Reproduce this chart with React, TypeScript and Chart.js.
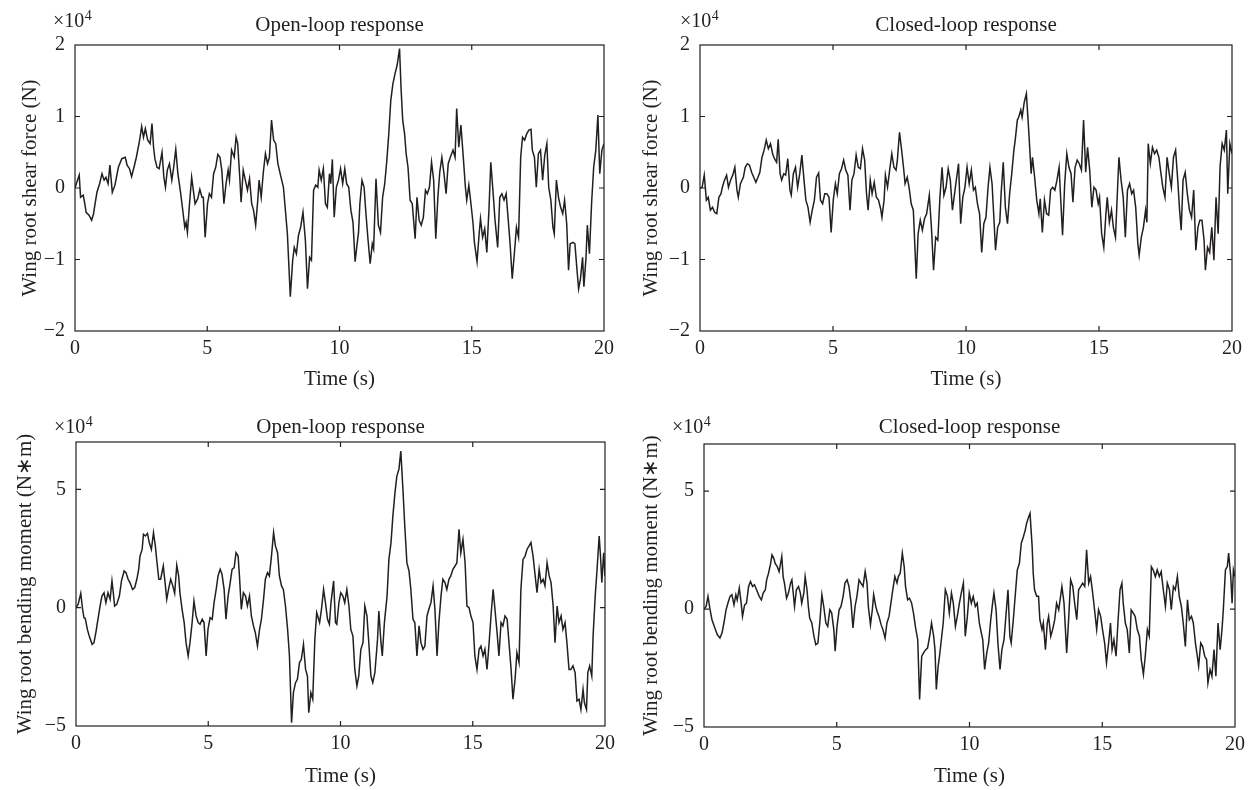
import React, { useEffect, useRef } from 'react';
import { Chart, registerables } from 'chart.js';

Chart.register(...registerables);

// ---------- data (values in units of 10^4) ----------
const xTicks = [0, 5, 10, 15, 20];
const shearTicks = [-2, -1, 0, 1, 2];
const momentTicks = [-5, 0, 5];

const openShear: [number, number][] = [
  [0, 0], [0.05, 0.06], [0.16, 0.18], [0.21, -0.13], [0.31, -0.1], [0.37, -0.22], [0.42, -0.34], [0.53, -0.38], [0.63, -0.45], [0.7, -0.36],
  [0.76, -0.22], [0.83, -0.06], [0.93, 0.06], [1.02, 0.2], [1.1, 0.11], [1.17, 0.15], [1.25, 0.06], [1.32, 0.32], [1.41, -0.06], [1.51, 0.04],
  [1.64, 0.29], [1.77, 0.41], [1.9, 0.43], [1.97, 0.32], [2.06, 0.27], [2.14, 0.16], [2.23, 0.29], [2.32, 0.43], [2.43, 0.64], [2.52, 0.86],
  [2.59, 0.71], [2.66, 0.83], [2.75, 0.67], [2.84, 0.62], [2.91, 0.9], [2.97, 0.57], [3.02, 0.41], [3.1, 0.29], [3.18, 0.27], [3.29, 0.5],
  [3.36, 0.15], [3.42, 0.01], [3.49, 0.25], [3.57, 0.34], [3.66, 0.11], [3.73, 0.29], [3.81, 0.54], [3.89, 0.2], [3.99, -0.06], [4.09, -0.36],
  [4.15, -0.55], [4.2, -0.48], [4.25, -0.62], [4.33, -0.22], [4.41, 0.15], [4.49, -0.08], [4.54, -0.22], [4.64, -0.15], [4.72, -0.02], [4.8, -0.13],
  [4.85, -0.13], [4.92, -0.69], [5.01, -0.22], [5.08, -0.08], [5.16, -0.13], [5.24, 0.2], [5.32, 0.29], [5.4, 0.47], [5.48, 0.43], [5.55, 0.25],
  [5.63, -0.22], [5.71, 0.06], [5.79, 0.25], [5.84, 0.11], [5.92, 0.53], [6.02, 0.43], [6.09, 0.71], [6.15, 0.62], [6.23, 0.15], [6.28, -0.2],
  [6.36, 0.25], [6.44, 0.11], [6.52, -0.03], [6.6, 0.13], [6.68, -0.22], [6.75, -0.31], [6.83, -0.52], [6.91, -0.17], [6.96, 0.11], [7.04, -0.13],
  [7.12, 0.22], [7.2, 0.48], [7.28, 0.34], [7.35, 0.43], [7.43, 0.95], [7.51, 0.67], [7.59, 0.62], [7.67, 0.34], [7.77, 0.18], [7.88, 0.01],
  [7.95, -0.29], [8.03, -0.64], [8.14, -1.52], [8.23, -1.01], [8.29, -0.83], [8.37, -0.92], [8.45, -0.66], [8.53, -0.55], [8.62, -0.34], [8.71, -0.73],
  [8.79, -1.41], [8.87, -0.97], [8.94, -1.01], [9.02, -0.03], [9.1, 0.04], [9.18, 0.01], [9.23, 0.25], [9.31, 0.11], [9.39, 0.27], [9.47, -0.22],
  [9.54, -0.27], [9.62, 0.2], [9.67, 0.06], [9.73, 0.4], [9.8, -0.41], [9.88, 0.01], [9.96, 0.11], [10.04, 0.27], [10.12, 0.06], [10.2, 0.27],
  [10.27, 0.06], [10.35, 0.01], [10.43, -0.31], [10.51, -0.48], [10.59, -1.03], [10.66, -0.8], [10.72, -0.62], [10.77, -0.22], [10.85, 0.11], [10.93, 0.01],
  [11.0, -0.36], [11.08, -0.73], [11.16, -1.06], [11.24, -0.78], [11.29, -0.85], [11.38, 0.13], [11.47, -0.52], [11.55, -0.62], [11.63, -0.13], [11.71, 0.06],
  [11.79, 0.39], [11.86, 0.74], [11.94, 1.23], [12.02, 1.46], [12.1, 1.6], [12.18, 1.72], [12.27, 1.95], [12.33, 1.37], [12.39, 0.95], [12.46, 0.76],
  [12.52, 0.48], [12.59, 0.29], [12.67, -0.17], [12.75, -0.22], [12.86, -0.71], [12.93, -0.13], [13.01, -0.45], [13.09, -0.52], [13.17, -0.41], [13.25, -0.03],
  [13.32, -0.08], [13.4, 0.01], [13.48, 0.36], [13.56, 0.11], [13.64, -0.71], [13.72, -0.13], [13.79, 0.22], [13.87, 0.43], [13.95, 0.2], [14.03, -0.08],
  [14.11, 0.34], [14.19, 0.43], [14.29, 0.53], [14.37, 0.43], [14.43, 1.11], [14.51, 0.57], [14.59, 0.88], [14.68, 0.43], [14.76, 0.01], [14.81, -0.17],
  [14.89, 0.04], [14.97, -0.22], [15.05, -0.5], [15.1, -0.76], [15.2, -1.03], [15.28, -0.64], [15.33, -0.43], [15.41, -0.69], [15.49, -0.57], [15.57, -0.9],
  [15.65, -0.31], [15.72, 0.36], [15.8, -0.03], [15.88, -0.45], [15.98, -0.83], [16.06, -0.13], [16.14, -0.08], [16.22, -0.17], [16.3, -0.08], [16.38, -0.45],
  [16.45, -0.78], [16.53, -1.27], [16.61, -0.92], [16.69, -0.55], [16.77, -0.69], [16.85, 0.43], [16.92, 0.71], [17.0, 0.67], [17.08, 0.76], [17.16, 0.81],
  [17.24, 0.82], [17.29, 0.53], [17.37, 0.43], [17.44, 0.01], [17.52, 0.48], [17.6, 0.53], [17.68, 0.11], [17.76, 0.46], [17.84, 0.62], [17.91, 0.01],
  [17.99, -0.17], [18.07, -0.55], [18.12, -0.64], [18.2, 0.11], [18.28, -0.13], [18.36, -0.27], [18.44, -0.36], [18.51, -0.17], [18.59, -0.5], [18.66, -1.15],
  [18.72, -0.78], [18.83, -0.76], [18.9, -0.78], [18.98, -1.15], [19.04, -1.41], [19.11, -1.27], [19.19, -0.97], [19.24, -1.38], [19.32, -0.97], [19.37, -0.52],
  [19.45, -0.92], [19.53, -0.22], [19.61, 0.29], [19.69, 0.53], [19.77, 1.02], [19.84, 0.2], [19.92, 0.53], [20.0, 0.62],
];

const closedShear: [number, number][] = [
  [0, 0], [0.08, 0.01], [0.16, 0.18], [0.24, -0.17], [0.31, -0.13], [0.39, -0.31], [0.47, -0.27], [0.55, -0.34], [0.63, -0.36], [0.71, -0.13],
  [0.79, -0.08], [0.84, 0.01], [0.92, 0.11], [1.0, 0.18], [1.07, 0.01], [1.15, 0.11], [1.23, 0.18], [1.31, 0.29], [1.39, -0.03], [1.44, -0.13],
  [1.52, 0.06], [1.63, 0.15], [1.7, 0.29], [1.78, 0.34], [1.86, 0.32], [1.94, 0.22], [2.02, 0.15], [2.1, 0.08], [2.18, 0.15], [2.25, 0.22],
  [2.33, 0.43], [2.41, 0.53], [2.49, 0.67], [2.57, 0.55], [2.65, 0.62], [2.73, 0.48], [2.8, 0.41], [2.88, 0.36], [2.94, 0.68], [3.01, 0.2],
  [3.07, 0.11], [3.15, 0.2], [3.22, 0.18], [3.3, 0.41], [3.38, -0.03], [3.43, -0.1], [3.51, 0.2], [3.59, 0.29], [3.67, 0.01], [3.75, 0.2],
  [3.83, 0.46], [3.91, 0.11], [3.98, -0.17], [4.06, -0.27], [4.14, -0.48], [4.22, -0.31], [4.3, -0.17], [4.38, 0.15], [4.46, 0.21], [4.53, -0.17],
  [4.61, -0.22], [4.69, -0.08], [4.77, -0.08], [4.85, -0.13], [4.93, -0.62], [5.01, -0.17], [5.09, 0.06], [5.16, -0.08], [5.24, 0.2], [5.32, 0.27],
  [5.4, 0.39], [5.48, 0.25], [5.56, 0.18], [5.64, -0.31], [5.71, 0.11], [5.79, 0.2], [5.87, 0.46], [5.95, 0.29], [6.03, 0.27], [6.11, 0.55],
  [6.19, 0.39], [6.26, -0.08], [6.32, -0.31], [6.4, 0.11], [6.47, -0.08], [6.55, 0.08], [6.63, -0.13], [6.71, -0.17], [6.79, -0.29], [6.84, -0.41],
  [6.92, -0.17], [6.97, 0.18], [7.05, 0.01], [7.13, 0.25], [7.21, 0.48], [7.29, 0.29], [7.37, 0.25], [7.42, 0.39], [7.5, 0.78], [7.58, 0.53],
  [7.65, 0.29], [7.71, 0.06], [7.79, 0.15], [7.86, 0.01], [7.94, -0.22], [8.02, -0.31], [8.13, -1.27], [8.2, -0.64], [8.28, -0.45], [8.36, -0.59],
  [8.44, -0.43], [8.52, -0.36], [8.62, -0.1], [8.7, -0.55], [8.78, -1.15], [8.86, -0.69], [8.94, -0.73], [9.02, -0.13], [9.1, 0.29], [9.17, -0.1],
  [9.25, 0.01], [9.33, 0.27], [9.41, 0.11], [9.49, -0.31], [9.57, -0.08], [9.65, 0.15], [9.72, 0.34], [9.8, -0.5], [9.88, -0.13], [9.96, 0.01],
  [10.04, 0.29], [10.12, 0.06], [10.2, 0.25], [10.28, -0.03], [10.35, 0.01], [10.43, -0.22], [10.51, -0.36], [10.59, -0.9], [10.67, -0.5], [10.75, -0.41],
  [10.83, 0.01], [10.9, 0.29], [10.98, 0.06], [11.04, -0.36], [11.11, -0.87], [11.19, -0.55], [11.27, -0.48], [11.32, -0.08], [11.4, 0.36], [11.48, -0.27],
  [11.56, -0.5], [11.64, -0.08], [11.72, 0.2], [11.8, 0.53], [11.85, 0.67], [11.93, 0.95], [11.98, 0.99], [12.06, 1.09], [12.11, 0.99], [12.19, 1.2],
  [12.27, 1.32], [12.35, 0.85], [12.4, 0.53], [12.45, 0.2], [12.5, 0.43], [12.58, 0.15], [12.66, -0.17], [12.74, -0.36], [12.79, -0.15], [12.87, -0.62],
  [12.95, -0.17], [13.03, -0.36], [13.11, -0.38], [13.18, -0.03], [13.26, 0.01], [13.34, -0.03], [13.42, 0.11], [13.5, 0.29], [13.55, -0.08], [13.63, -0.66],
  [13.71, 0.06], [13.79, 0.48], [13.87, 0.29], [13.95, 0.2], [14.02, -0.2], [14.1, 0.29], [14.18, 0.39], [14.26, 0.34], [14.34, 0.25], [14.42, 0.95],
  [14.5, 0.22], [14.57, 0.57], [14.65, 0.25], [14.73, -0.27], [14.81, 0.01], [14.89, -0.03], [14.97, -0.22], [15.02, -0.13], [15.1, -0.64], [15.18, -0.83],
  [15.26, -0.36], [15.31, -0.13], [15.39, -0.48], [15.47, -0.31], [15.54, -0.55], [15.62, -0.69], [15.7, 0.01], [15.75, 0.43], [15.83, 0.11], [15.91, -0.13],
  [15.99, -0.69], [16.07, -0.03], [16.15, 0.06], [16.23, -0.08], [16.3, -0.03], [16.38, -0.27], [16.46, -0.78], [16.51, -0.94], [16.59, -0.69], [16.67, -0.55],
  [16.75, -0.31], [16.8, -0.48], [16.85, 0.62], [16.93, 0.34], [17.01, 0.57], [17.09, 0.48], [17.17, 0.53], [17.25, 0.43], [17.33, 0.2], [17.4, 0.01],
  [17.48, -0.13], [17.56, 0.43], [17.64, 0.2], [17.72, 0.01], [17.8, 0.43], [17.88, 0.53], [17.96, 0.11], [18.03, -0.31], [18.09, -0.59], [18.16, 0.11],
  [18.24, 0.22], [18.32, -0.08], [18.4, -0.31], [18.48, -0.41], [18.56, -0.03], [18.64, -0.87], [18.72, -0.55], [18.79, -0.45], [18.87, -0.45], [18.95, -0.73],
  [19.0, -1.15], [19.08, -0.83], [19.16, -0.9], [19.24, -0.55], [19.32, -1.01], [19.4, -0.13], [19.48, -0.64], [19.55, 0.29], [19.63, 0.62], [19.71, 0.53],
  [19.79, 0.81], [19.84, -0.08], [19.92, 0.62], [20.0, 0.48],
];

const openMoment: [number, number][] = [
  [0, 0], [0.08, 0.14], [0.18, 0.61], [0.25, -0.07], [0.3, -0.42], [0.35, -0.46], [0.43, -0.92], [0.5, -1.2], [0.61, -1.55], [0.68, -1.48],
  [0.76, -0.99], [0.81, -0.63], [0.91, 0.07], [0.98, 0.49], [1.06, 0.63], [1.13, 0.21], [1.21, 0.63], [1.29, 0.35], [1.36, 1.13], [1.41, 0.63],
  [1.46, 0.07], [1.54, 0.14], [1.64, 0.49], [1.72, 1.13], [1.82, 1.55], [1.89, 1.48], [1.97, 1.2], [2.04, 1.06], [2.14, 0.77], [2.22, 0.85],
  [2.3, 1.2], [2.37, 1.62], [2.42, 2.18], [2.5, 2.46], [2.55, 3.1], [2.62, 3.03], [2.7, 3.14], [2.77, 2.75], [2.85, 2.46], [2.93, 3.17],
  [3.0, 2.61], [3.05, 2.04], [3.13, 1.2], [3.2, 1.2], [3.3, 1.76], [3.38, 0.92], [3.43, 0.35], [3.51, 0.85], [3.58, 1.2], [3.66, 0.92],
  [3.73, 0.61], [3.81, 1.79], [3.88, 1.34], [3.93, 0.63], [4.01, -0.07], [4.09, -0.63], [4.16, -1.48], [4.24, -2.04], [4.31, -1.48], [4.39, -0.63],
  [4.46, 0.28], [4.54, -0.35], [4.62, -0.63], [4.69, -0.7], [4.77, -0.49], [4.84, -0.63], [4.92, -2.04], [4.99, -0.92], [5.07, -0.42], [5.15, -0.49],
  [5.22, 0.21], [5.3, 0.77], [5.37, 1.34], [5.45, 1.62], [5.52, 1.41], [5.6, 0.77], [5.67, -0.49], [5.75, 0.49], [5.83, 1.06], [5.9, 1.62],
  [5.98, 1.69], [6.05, 2.32], [6.13, 2.18], [6.18, 1.34], [6.25, -0.07], [6.33, 0.63], [6.41, 0.49], [6.48, 0.07], [6.56, 0.49], [6.63, -0.35],
  [6.71, -0.77], [6.78, -1.06], [6.86, -1.62], [6.94, -0.92], [7.01, -0.49], [7.09, 0.35], [7.16, 1.2], [7.24, 1.48], [7.31, 1.34], [7.39, 2.18],
  [7.47, 3.17], [7.54, 2.61], [7.62, 2.32], [7.69, 1.34], [7.77, 0.92], [7.84, 0.77], [7.92, 0.07], [8.0, -0.92], [8.07, -2.04], [8.15, -4.86],
  [8.22, -3.59], [8.3, -3.17], [8.37, -3.03], [8.45, -2.32], [8.52, -2.18], [8.6, -1.55], [8.68, -2.61], [8.75, -2.89], [8.8, -4.44], [8.88, -3.59],
  [8.95, -3.87], [9.03, -1.34], [9.1, -0.21], [9.21, -0.63], [9.28, -0.07], [9.36, 0.77], [9.43, 0.21], [9.51, -0.49], [9.58, -0.7], [9.64, 0.21],
  [9.74, 1.13], [9.81, -0.63], [9.86, -0.7], [9.94, 0.21], [10.01, 0.63], [10.09, 0.49], [10.16, 0.21], [10.24, 0.77], [10.32, 0.07], [10.39, -0.92],
  [10.47, -1.2], [10.54, -2.61], [10.62, -3.31], [10.69, -2.89], [10.77, -1.76], [10.85, -1.48], [10.92, 0.07], [11.0, -0.35], [11.07, -1.48], [11.15, -2.89],
  [11.22, -3.17], [11.3, -2.75], [11.4, -1.34], [11.45, -0.14], [11.53, -1.48], [11.58, -2.04], [11.66, -0.63], [11.76, 0.49], [11.83, 2.04], [11.91, 2.75],
  [11.98, 3.87], [12.06, 4.86], [12.13, 5.56], [12.21, 5.85], [12.28, 6.62], [12.36, 5.0], [12.43, 3.45], [12.51, 1.9], [12.59, 1.55], [12.66, 0.77],
  [12.74, -0.49], [12.81, -0.63], [12.89, -2.04], [12.97, -0.77], [13.04, -1.48], [13.12, -1.76], [13.19, -1.62], [13.27, -0.35], [13.34, -0.07], [13.42, 0.21],
  [13.5, 0.92], [13.57, -0.07], [13.65, -2.04], [13.72, -0.63], [13.8, 0.49], [13.87, 1.2], [13.95, 1.06], [14.02, 0.77], [14.1, 1.2], [14.17, 1.34],
  [14.25, 1.62], [14.33, 1.76], [14.4, 1.9], [14.48, 3.31], [14.55, 2.32], [14.63, 2.89], [14.71, 1.9], [14.78, 0.07], [14.86, 0.0], [14.93, -0.35],
  [15.01, -0.63], [15.08, -2.04], [15.16, -2.61], [15.24, -1.76], [15.31, -1.62], [15.39, -2.04], [15.46, -1.76], [15.54, -2.61], [15.61, -1.62], [15.69, -0.35],
  [15.77, 0.77], [15.84, -0.07], [15.92, -1.06], [15.99, -2.04], [16.07, -0.63], [16.14, -0.77], [16.22, -0.35], [16.3, -0.49], [16.37, -1.48], [16.45, -2.61],
  [16.52, -3.87], [16.6, -3.03], [16.67, -1.9], [16.75, -2.32], [16.82, 0.77], [16.9, 2.04], [16.98, 2.18], [17.05, 2.46], [17.13, 2.61], [17.2, 2.75],
  [17.28, 2.18], [17.36, 1.34], [17.43, 0.63], [17.51, 1.62], [17.58, 1.06], [17.66, 1.2], [17.73, 0.92], [17.81, 1.9], [17.89, 1.34], [17.96, 1.06],
  [18.04, 0.07], [18.11, -1.48], [18.19, 0.07], [18.26, -0.63], [18.34, -0.35], [18.41, -0.92], [18.49, -0.63], [18.56, -1.48], [18.64, -2.61], [18.71, -2.61],
  [18.79, -2.46], [18.87, -2.75], [18.94, -3.94], [19.02, -3.87], [19.09, -4.3], [19.17, -3.45], [19.22, -4.01], [19.3, -4.3], [19.35, -2.75], [19.42, -2.46],
  [19.5, -2.89], [19.55, -1.2], [19.63, 0.49], [19.7, 1.62], [19.78, 3.03], [19.83, 2.18], [19.88, 1.06], [19.95, 2.32], [20.0, 1.34],
];

const closedMoment: [number, number][] = [
  [0, 0], [0.08, 0.11], [0.15, 0.54], [0.23, -0.03], [0.3, -0.45], [0.43, -0.87], [0.5, -1.08], [0.6, -1.23], [0.68, -1.01], [0.75, -0.59],
  [0.83, -0.03], [0.9, 0.25], [0.98, 0.54], [1.05, 0.61], [1.13, 0.18], [1.2, 0.61], [1.25, 0.39], [1.33, 0.89], [1.4, 0.25], [1.45, -0.31],
  [1.53, 0.18], [1.6, 0.25], [1.68, 0.96], [1.75, 1.17], [1.83, 0.96], [1.9, 1.03], [1.98, 0.82], [2.08, 0.54], [2.16, 0.39], [2.23, 0.68],
  [2.31, 0.82], [2.36, 1.24], [2.43, 1.52], [2.51, 1.94], [2.56, 2.3], [2.63, 2.15], [2.68, 1.94], [2.76, 1.8], [2.83, 1.59], [2.93, 2.23],
  [2.98, 1.38], [3.03, 1.1], [3.11, 0.46], [3.18, 0.68], [3.26, 1.1], [3.31, 1.24], [3.36, 0.68], [3.41, 0.11], [3.48, 0.82], [3.56, 0.96],
  [3.63, 0.68], [3.68, 0.25], [3.76, 0.68], [3.81, 1.38], [3.88, 0.82], [3.93, 0.11], [3.98, -0.38], [4.06, -0.59], [4.14, -1.15], [4.21, -1.51],
  [4.29, -1.44], [4.36, -0.59], [4.44, 0.61], [4.51, 0.11], [4.59, -0.59], [4.66, -0.73], [4.74, -0.03], [4.81, -0.17], [4.89, -0.87], [4.94, -1.79],
  [5.01, -0.73], [5.09, -0.03], [5.16, 0.11], [5.24, 0.54], [5.31, 1.1], [5.39, 1.24], [5.46, 0.96], [5.54, 0.25], [5.61, -0.8], [5.69, 0.11],
  [5.76, 0.54], [5.84, 1.24], [5.91, 1.1], [5.99, 0.96], [6.07, 1.59], [6.14, 1.1], [6.19, 0.11], [6.27, -0.66], [6.34, -0.03], [6.39, 0.61],
  [6.47, 0.11], [6.52, -0.1], [6.59, -0.31], [6.67, -0.66], [6.74, -0.87], [6.82, -1.23], [6.89, -0.59], [6.97, -0.31], [7.04, 0.25], [7.12, 0.89],
  [7.19, 1.38], [7.27, 1.1], [7.32, 1.38], [7.39, 1.52], [7.47, 2.37], [7.54, 1.8], [7.59, 0.96], [7.67, 0.39], [7.74, 0.46], [7.82, 0.25],
  [7.89, -0.17], [7.97, -0.8], [8.05, -1.3], [8.12, -3.83], [8.2, -2.0], [8.27, -1.86], [8.35, -1.72], [8.42, -1.65], [8.5, -1.15], [8.57, -0.59],
  [8.65, -1.15], [8.7, -1.72], [8.75, -3.41], [8.82, -2.42], [8.87, -2.0], [9.01, -0.59], [9.09, 0.82], [9.17, 0.54], [9.24, -0.17], [9.32, 0.68],
  [9.39, 0.25], [9.47, -0.73], [9.54, -0.31], [9.62, 0.25], [9.69, 0.68], [9.77, 1.1], [9.84, -1.15], [9.92, -0.31], [9.99, 0.68], [10.07, 0.25],
  [10.14, 0.54], [10.22, 0.11], [10.29, 0.25], [10.37, -0.59], [10.42, -0.87], [10.5, -1.3], [10.57, -2.56], [10.65, -1.86], [10.72, -1.44], [10.8, -0.45],
  [10.87, 0.25], [10.92, 0.68], [11.0, -0.03], [11.07, -1.44], [11.15, -2.56], [11.22, -1.72], [11.3, -1.3], [11.37, -0.31], [11.45, 0.82], [11.52, -1.15],
  [11.57, -1.44], [11.65, -0.45], [11.73, 0.68], [11.8, 1.66], [11.88, 1.94], [11.95, 2.79], [12.03, 3.07], [12.1, 3.35], [12.15, 3.63], [12.23, 3.92],
  [12.28, 4.06], [12.36, 2.65], [12.4, 1.52], [12.45, 0.82], [12.53, 0.54], [12.6, 0.54], [12.65, -0.45], [12.73, -0.87], [12.78, -0.59], [12.86, -1.72],
  [12.93, -0.59], [12.98, -0.31], [13.06, -1.15], [13.13, -0.87], [13.21, -0.45], [13.28, 0.25], [13.36, -0.03], [13.43, 0.54], [13.48, 0.96], [13.56, 0.25],
  [13.66, -1.86], [13.74, -0.31], [13.81, 1.24], [13.89, 0.96], [13.96, 0.25], [14.04, -0.45], [14.11, 0.82], [14.19, 0.96], [14.26, 1.1], [14.34, 0.96],
  [14.41, 2.51], [14.49, 1.1], [14.56, 1.38], [14.64, 0.68], [14.71, -0.03], [14.79, -0.87], [14.86, -0.03], [14.94, -0.31], [15.01, -0.87], [15.09, -1.44],
  [15.16, -2.28], [15.24, -1.44], [15.31, -0.59], [15.37, -1.72], [15.44, -1.3], [15.52, -2.0], [15.59, -0.59], [15.67, 0.82], [15.74, 1.1], [15.79, 0.25],
  [15.87, -0.59], [15.94, -0.87], [16.02, -1.86], [16.09, -0.03], [16.17, -0.17], [16.24, -0.31], [16.32, -0.87], [16.4, -1.15], [16.47, -2.14], [16.55, -2.77],
  [16.62, -2.0], [16.7, -0.87], [16.77, -1.15], [16.85, 1.8], [16.92, 1.66], [17.0, 1.38], [17.07, 1.66], [17.15, 1.38], [17.22, 1.59], [17.3, 0.82],
  [17.38, 0.11], [17.45, 1.1], [17.53, 0.82], [17.6, -0.03], [17.68, 0.96], [17.75, 0.82], [17.83, 1.38], [17.9, 0.54], [17.98, 0.11], [18.05, -0.59],
  [18.13, -1.58], [18.21, 0.39], [18.28, -0.45], [18.36, -0.31], [18.43, -0.59], [18.51, -1.44], [18.58, -2.0], [18.63, -2.42], [18.71, -1.44], [18.78, -1.58],
  [18.86, -2.0], [18.93, -2.14], [18.98, -3.13], [19.06, -2.56], [19.13, -2.85], [19.21, -1.72], [19.28, -2.85], [19.36, -0.59], [19.44, -1.72], [19.51, -0.87],
  [19.56, -0.03], [19.64, 1.66], [19.71, 1.8], [19.76, 2.37], [19.84, 1.38], [19.89, 0.25], [19.94, 1.66], [20.0, 1.38],
];

// ---------- styling ----------
const FONT = '"Liberation Serif", "Times New Roman", serif';
const INK = '#231f20';
const TICK_SIZE = 20;
const LABEL_SIZE = 21;

type Rect = { x: number; y: number; w: number; h: number };
type Plot = { l: number; t: number; r: number; b: number };
type PanelCfg = {
  data: [number, number][];
  title: string;
  yLabel: string;
  yMin: number;
  yMax: number;
  yTicks: number[];
  canvas: Rect;
  plot: Plot;
  yLabelBase: number;
  titleBase: number;
  xLabelBase: number;
  expX: number;
  expBase: number;
};

const panels: PanelCfg[] = [
  {
    data: openShear, title: 'Open-loop response', yLabel: 'Wing root shear force (N)',
    yMin: -2, yMax: 2, yTicks: shearTicks,
    canvas: { x: 0, y: 0, w: 627, h: 395 }, plot: { l: 75, t: 45, r: 604, b: 331 },
    yLabelBase: 35.5, titleBase: 30.5, xLabelBase: 385, expX: 53, expBase: 27.3,
  },
  {
    data: closedShear, title: 'Closed-loop response', yLabel: 'Wing root shear force (N)',
    yMin: -2, yMax: 2, yTicks: shearTicks,
    canvas: { x: 627, y: 0, w: 627, h: 395 }, plot: { l: 700, t: 45, r: 1232, b: 331 },
    yLabelBase: 656.5, titleBase: 30.5, xLabelBase: 385, expX: 680, expBase: 27.3,
  },
  {
    data: openMoment, title: 'Open-loop response', yLabel: 'Wing root bending moment (N\u2217m)',
    yMin: -5, yMax: 7, yTicks: momentTicks,
    canvas: { x: 0, y: 395, w: 627, h: 395 }, plot: { l: 76, t: 442, r: 605, b: 726 },
    yLabelBase: 31, titleBase: 433, xLabelBase: 781.5, expX: 54, expBase: 433.3,
  },
  {
    data: closedMoment, title: 'Closed-loop response', yLabel: 'Wing root bending moment (N\u2217m)',
    yMin: -5, yMax: 7, yTicks: momentTicks,
    canvas: { x: 627, y: 395, w: 627, h: 395 }, plot: { l: 704, t: 444, r: 1235, b: 727 },
    yLabelBase: 656.5, titleBase: 433, xLabelBase: 781.5, expX: 672, expBase: 433.3,
  },
];

const fmt = (v: number) => (v < 0 ? '\u2212' + String(Math.abs(v)) : String(v));

function Panel({ cfg }: { cfg: PanelCfg }) {
  const ref = useRef<HTMLCanvasElement>(null);
  const cv = cfg.canvas;

  useEffect(() => {
    const plot = cfg.plot;
    const xAxisH = 30;
    const ox = cv.x;
    const oy = cv.y;

    const decor = {
      id: 'decor',
      afterDatasetsDraw(chart: any) {
        const ctx = chart.ctx as CanvasRenderingContext2D;
        const ca = chart.chartArea;
        const xs = chart.scales.x;
        const ys = chart.scales.y;
        ctx.save();
        ctx.strokeStyle = INK;
        ctx.lineWidth = 1.2;
        ctx.strokeRect(ca.left, ca.top, ca.right - ca.left, ca.bottom - ca.top);
        const tl = 5;
        ctx.beginPath();
        xTicks.forEach((v) => {
          const px = xs.getPixelForValue(v);
          if (px <= ca.left + 1 || px >= ca.right - 1) return;
          ctx.moveTo(px, ca.top);
          ctx.lineTo(px, ca.top + tl);
          ctx.moveTo(px, ca.bottom);
          ctx.lineTo(px, ca.bottom - tl);
        });
        cfg.yTicks.forEach((v) => {
          const py = ys.getPixelForValue(v);
          if (py <= ca.top + 1 || py >= ca.bottom - 1) return;
          ctx.moveTo(ca.left, py);
          ctx.lineTo(ca.left + tl, py);
          ctx.moveTo(ca.right, py);
          ctx.lineTo(ca.right - tl, py);
        });
        ctx.stroke();

        ctx.fillStyle = INK;
        const cx = (ca.left + ca.right) / 2;
        const cy = (ca.top + ca.bottom) / 2;
        ctx.font = `${LABEL_SIZE}px ${FONT}`;
        ctx.textAlign = 'center';
        ctx.textBaseline = 'alphabetic';
        ctx.fillText(cfg.title, cx, cfg.titleBase - oy);
        ctx.fillText('Time (s)', cx, cfg.xLabelBase - oy);
        ctx.save();
        ctx.translate(cfg.yLabelBase - ox, cy);
        ctx.rotate(-Math.PI / 2);
        ctx.fillText(cfg.yLabel, 0, 0);
        ctx.restore();
        ctx.textAlign = 'left';
        ctx.font = `${TICK_SIZE}px ${FONT}`;
        const base = '\u00d710';
        ctx.fillText(base, cfg.expX - ox, cfg.expBase - oy);
        const w = ctx.measureText(base).width;
        ctx.font = `${14}px ${FONT}`;
        ctx.fillText('4', cfg.expX - ox + w + 0.5, cfg.expBase - oy - 7.5);
        ctx.restore();
      },
    };

    const tickFont = { family: FONT, size: TICK_SIZE };
    const chart = new Chart(ref.current as HTMLCanvasElement, {
      type: 'line',
      data: {
        datasets: [
          {
            data: cfg.data.map(([x, y]) => ({ x, y })),
            borderColor: INK,
            borderWidth: 1.5,
            pointRadius: 0,
            tension: 0,
            fill: false,
          },
        ],
      },
      options: {
        animation: false,
        responsive: false,
        devicePixelRatio: 1,
        layout: {
          padding: {
            left: 0,
            top: plot.t - oy,
            right: ox + cv.w - plot.r,
            bottom: oy + cv.h - plot.b - xAxisH,
          },
        },
        plugins: {
          legend: { display: false },
          tooltip: { enabled: false },
          title: { display: false },
        },
        scales: {
          x: {
            type: 'linear',
            min: 0,
            max: 20,
            afterBuildTicks: (s: any) => {
              s.ticks = xTicks.map((v) => ({ value: v }));
            },
            afterFit: (s: any) => {
              s.height = xAxisH;
            },
            grid: { display: false, drawTicks: false },
            border: { display: false },
            ticks: {
              font: tickFont,
              color: INK,
              padding: 5.5,
              maxRotation: 0,
              autoSkip: false,
              callback: (v: any) => fmt(Number(v)),
            },
          },
          y: {
            type: 'linear',
            min: cfg.yMin,
            max: cfg.yMax,
            afterBuildTicks: (s: any) => {
              s.ticks = cfg.yTicks.map((v) => ({ value: v }));
            },
            afterFit: (s: any) => {
              s.width = plot.l - ox;
            },
            grid: { display: false, drawTicks: false },
            border: { display: false },
            ticks: {
              font: tickFont,
              color: INK,
              padding: 10,
              autoSkip: false,
              callback: (v: any) => fmt(Number(v)),
            },
          },
        },
      },
      plugins: [decor],
    } as any);
    return () => chart.destroy();
  }, [cfg]);

  return (
    <canvas
      ref={ref}
      width={cv.w}
      height={cv.h}
      style={{ position: 'absolute', left: cv.x, top: cv.y, width: cv.w, height: cv.h, display: 'block' }}
    />
  );
}

export default function App() {
  return (
    <div style={{ position: 'absolute', left: 0, top: 0, width: 1254, height: 790, background: '#ffffff' }}>
      {panels.map((p, i) => (
        <Panel key={i} cfg={p} />
      ))}
    </div>
  );
}
